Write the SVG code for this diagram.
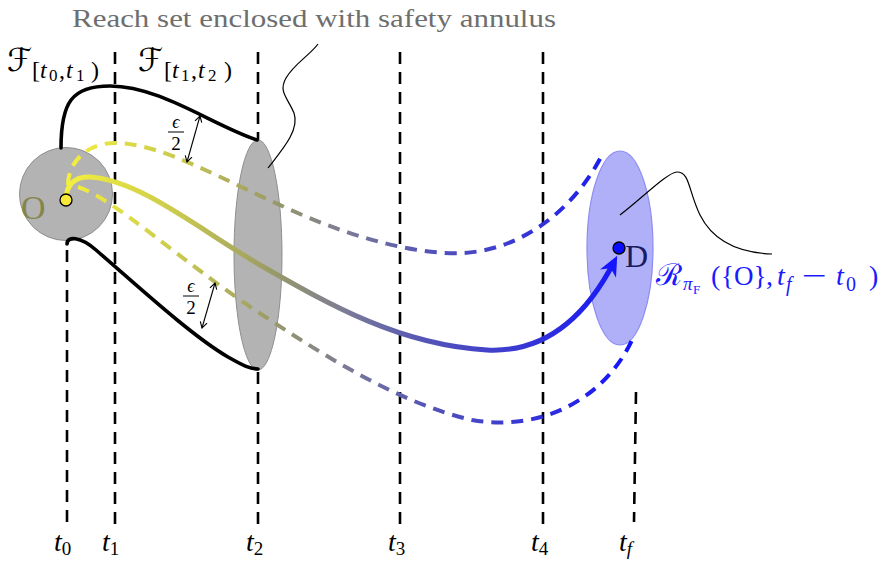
<svg xmlns="http://www.w3.org/2000/svg" width="889" height="562" viewBox="0 0 889 562">
<style>
.vline{fill:none;stroke:#000;stroke-width:2.6;stroke-dasharray:12 8}
.bound{fill:none;stroke:#000;stroke-width:3.6;stroke-linecap:round}
.dash{fill:none;stroke:url(#grad);stroke-width:4;stroke-dasharray:12 8}
.lead{fill:none;stroke:#000;stroke-width:1.2}
.serif{font-family:"Liberation Serif","Times New Roman",serif}
.it{font-style:italic}
.math{font-family:"Liberation Serif","Times New Roman","DejaVu Serif",serif}
.cal{font-family:"DejaVu Sans","DejaVu Serif",serif}
.tl{font-family:"Liberation Serif","Times New Roman",serif;font-size:28px;font-style:italic}
.ts{font-size:19px;font-style:normal}
</style>
<defs>
<linearGradient id="grad" gradientUnits="userSpaceOnUse" x1="66" y1="0" x2="640" y2="0">
<stop offset="0" stop-color="#f5f03c"/>
<stop offset="0.2" stop-color="#c8c850"/>
<stop offset="0.35" stop-color="#9c9c66"/>
<stop offset="0.5" stop-color="#78789a"/>
<stop offset="0.62" stop-color="#5656b6"/>
<stop offset="0.78" stop-color="#3a3ad2"/>
<stop offset="1" stop-color="#1010ff"/>
</linearGradient>
<marker id="arr" markerUnits="userSpaceOnUse" markerWidth="40" markerHeight="40" refX="0" refY="0" viewBox="-20 -20 40 40" orient="auto" overflow="visible">
<path d="M7,0 L-13,-9 L-7,0 L-13,9 Z" fill="#1414ff"/>
</marker>
<marker id="oa" markerUnits="userSpaceOnUse" markerWidth="20" markerHeight="20" viewBox="-10 -10 20 20" refX="0" refY="0" orient="auto-start-reverse" overflow="visible">
<path d="M-6,-3.5 L0,0 L-6,3.5" fill="none" stroke="#000" stroke-width="1.1"/>
</marker>
</defs>

<rect width="889" height="562" fill="#fff"/>

<g id="timelines">
<line class="vline" x1="67" y1="250" x2="67" y2="525"/>
<line class="vline" x1="115" y1="52" x2="115" y2="525"/>
<line class="vline" x1="258" y1="52" x2="258" y2="525"/>
<line class="vline" x1="400" y1="52" x2="400" y2="525"/>
<line class="vline" x1="543" y1="52" x2="543" y2="525"/>
<line class="vline" x1="636" y1="392" x2="634" y2="522"/>
</g>

<g id="node-O">
<circle cx="66" cy="194" r="46.5" fill="#b3b3b3" stroke="#8f8f8f" stroke-width="1"/>
<text x="21" y="219" class="serif" font-size="34" fill="#85854a">O</text>
</g>

<g id="node-reach-t2">
<ellipse cx="258" cy="255" rx="24" ry="115" fill="#b3b3b3" stroke="#8f8f8f" stroke-width="1"/>
</g>

<g id="node-D">
<ellipse cx="620" cy="248" rx="33" ry="97" fill="#b0b0f8" stroke="#8c8cf2" stroke-width="1.2"/>
</g>

<g id="connectors">
<path class="bound" d="M61,148 C61,102 72,86 110,86 C160,86 212,125 257,140"/>
<path class="bound" d="M67,244 C67,236 80,236 96,250 C140,288 192,336 228,357 C244,366 250,369 258,369"/>
<path class="dash" d="M68,185 C68,163 86,143 115,143 C162,143 222,180 300,214 C360,240 420,255 463,253 C520,250 572,212 601,157"/>
<path class="dash" d="M78,187 C112,197 182,262 258,312 C330,360 402,404 472,420 C540,432 604,400 632,340"/>
<path fill="none" stroke="url(#grad)" stroke-width="5" d="M66,200 C66,185 75,176 90,177 C140,180 200,230 260,265 C330,305 400,345 487,350 C545,353 585,318 614,262" marker-end="url(#arr)"/>
<line x1="200" y1="116" x2="187" y2="162" stroke="#000" stroke-width="1.1" marker-start="url(#oa)" marker-end="url(#oa)"/>
<line x1="215" y1="283" x2="202" y2="328" stroke="#000" stroke-width="1.1" marker-start="url(#oa)" marker-end="url(#oa)"/>
<path class="lead" d="M268,168 C282,150 300,130 294,113 C288,98 278,92 286,78 C294,64 310,55 318,44"/>
<path class="lead" d="M620,215 C640,200 668,172 677,172 C690,172 688,190 700,215 C715,245 745,253 772,254"/>
</g>

<g id="dots">
<circle cx="66" cy="200" r="6" fill="#f7e83a" stroke="#000" stroke-width="1.3"/>
<circle cx="619" cy="248" r="6" fill="#0a0aff" stroke="#000" stroke-width="1.3"/>
<text x="625" y="267" class="serif" font-size="32" fill="#1a1a60">D</text>
</g>

<g id="labels">
<text x="72" y="27" class="serif" font-size="26" fill="#6e6e6e" textLength="484" lengthAdjust="spacingAndGlyphs">Reach set enclosed with safety annulus</text>

<text x="7" y="71" class="cal" font-size="32">ℱ</text>
<text y="78" class="math" font-size="24"><tspan x="32">[</tspan><tspan class="it" x="40">t</tspan><tspan font-size="17" x="49" dy="3">0</tspan><tspan x="59" dy="-3">,</tspan><tspan class="it" x="66">t</tspan><tspan font-size="17" x="76" dy="3">1</tspan><tspan x="91" dy="-3">)</tspan></text>

<text x="138" y="71" class="cal" font-size="32">ℱ</text>
<text y="78" class="math" font-size="24"><tspan x="164">[</tspan><tspan class="it" x="172">t</tspan><tspan font-size="17" x="181" dy="3">1</tspan><tspan x="191" dy="-3">,</tspan><tspan class="it" x="198">t</tspan><tspan font-size="17" x="208" dy="3">2</tspan><tspan x="224" dy="-3">)</tspan></text>

<text x="176" y="128" class="math it" font-size="18" text-anchor="middle">ϵ</text>
<line x1="168" y1="132" x2="184" y2="132" stroke="#000" stroke-width="1"/>
<text x="176" y="150" class="math" font-size="19" text-anchor="middle">2</text>

<text x="191" y="292" class="math it" font-size="18" text-anchor="middle">ϵ</text>
<line x1="183" y1="296" x2="199" y2="296" stroke="#000" stroke-width="1"/>
<text x="191" y="314" class="math" font-size="19" text-anchor="middle">2</text>

<g fill="#1a1aff" class="math">
<text y="285" font-size="28"><tspan x="656" font-size="30">ℛ</tspan><tspan class="it" x="683" y="290" font-size="19">π</tspan><tspan x="693" y="294" font-size="13">F</tspan><tspan x="711" y="285">(</tspan><tspan x="721" font-size="27">{O}</tspan><tspan x="766">,</tspan><tspan class="it" x="777">t</tspan><tspan class="it" x="786" y="291" font-size="20">f</tspan><tspan class="it" x="836" y="285">t</tspan><tspan x="846" y="291" font-size="20">0</tspan><tspan x="869" y="285">)</tspan></text>
<text x="802" y="285" font-size="28" textLength="25" lengthAdjust="spacingAndGlyphs">−</text>
</g>

<text x="54" y="551" class="tl">t<tspan class="ts" dy="4">0</tspan></text>
<text x="102" y="551" class="tl">t<tspan class="ts" dy="4">1</tspan></text>
<text x="246" y="551" class="tl">t<tspan class="ts" dy="4">2</tspan></text>
<text x="388" y="551" class="tl">t<tspan class="ts" dy="4">3</tspan></text>
<text x="531" y="551" class="tl">t<tspan class="ts" dy="4">4</tspan></text>
<text x="619" y="551" class="tl">t<tspan class="ts" dy="4" style="font-style:italic">f</tspan></text>
</g>
</svg>
